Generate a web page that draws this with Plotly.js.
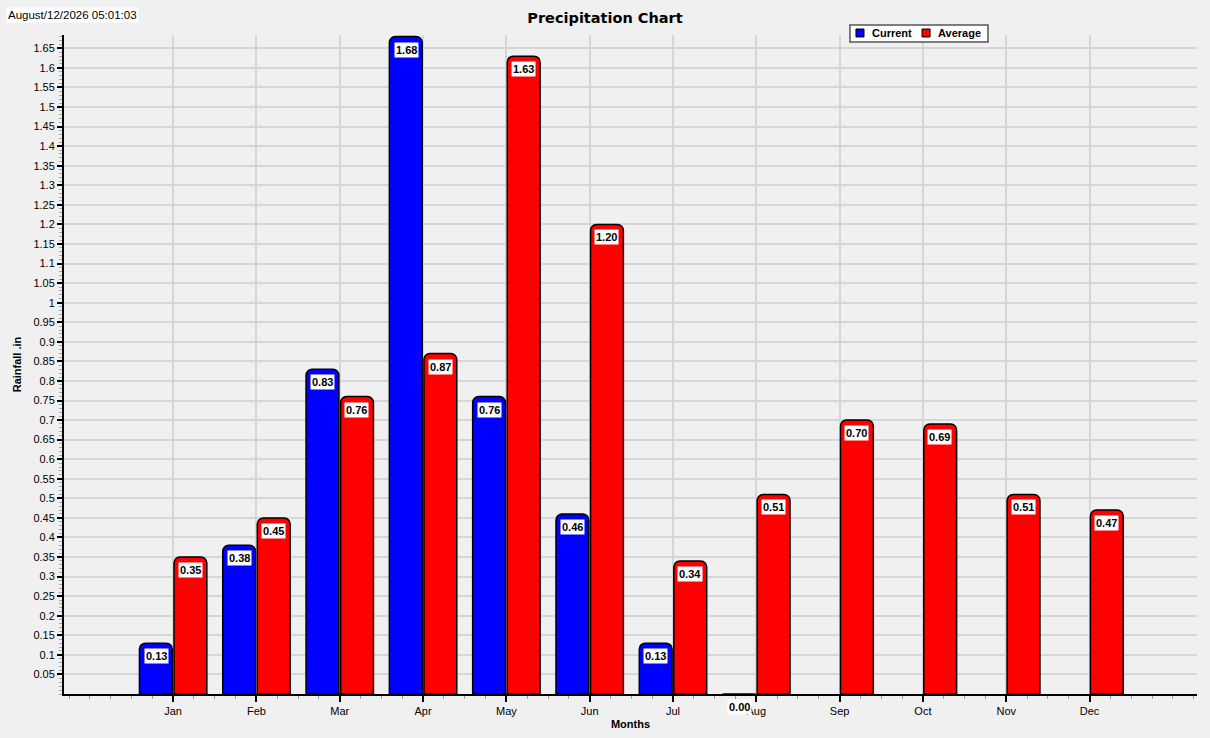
<!DOCTYPE html>
<html>
<head>
<meta charset="utf-8">
<script src="https://cdn.plot.ly/plotly-3.0.1.min.js"></script>
<style>
  body { margin: 0; background: #f0f0f0; }
  #graph { width: 1210px; height: 738px; }
</style>
</head>
<body>
<div id="graph"></div>
<script>
// chart data
const months = ['Jan', 'Feb', 'Mar', 'Apr', 'May', 'Jun', 'Jul', 'Aug', 'Sep', 'Oct', 'Nov', 'Dec'];
const current = [0.13, 0.38, 0.83, 1.68, 0.76, 0.46, 0.13, 0.00, null, null, null, null];
const average = [0.35, 0.45, 0.76, 0.87, 1.63, 1.20, 0.34, 0.51, 0.70, 0.69, 0.51, 0.47];
const yTicks = [0.05, 0.1, 0.15, 0.2, 0.25, 0.3, 0.35, 0.4, 0.45, 0.5, 0.55, 0.6, 0.65, 0.7, 0.75, 0.8,
                0.85, 0.9, 0.95, 1, 1.05, 1.1, 1.15, 1.2, 1.25, 1.3, 1.35, 1.4, 1.45, 1.5, 1.55, 1.6, 1.65];
const seriesNames = ['Current', 'Average'];
const seriesColors = ['#0000ff', '#ff0000'];
const stamp = 'August/12/2026 05:01:03';

const font = 'Liberation Sans, Arial, sans-serif';
const idx = months.map((m, i) => i);

function barTrace(name, values, color) {
    return {
        x: idx,
        y: values,
        name: name,
        type: 'bar',
        marker: { color: color, line: { color: '#000', width: 1.5 } },
        hoverinfo: 'skip'
    };
}

// white value boxes near the top of each bar
function labels(values, shift) {
    const out = [];
    values.forEach(function (v, i) {
        if (v === null) return;
        out.push({
            x: i, y: v, xref: 'x', yref: 'y',
            xshift: shift, yshift: -5,
            yanchor: 'top', xanchor: 'center',
            text: '<b>' + v.toFixed(2) + '</b>',
            showarrow: false,
            bgcolor: '#ffffff',
            borderpad: 1,
            font: { family: font, size: 11, color: '#000' }
        });
    });
    return out;
}

// small boxed legend at the top, like the original
function legendParts() {
    const shapes = [{
        type: 'rect', xref: 'paper', yref: 'paper',
        x0: 0.6937, x1: 0.8155, y0: 0.9894, y1: 1.0152,
        line: { color: '#555', width: 1.5 }, fillcolor: '#ffffff'
    }];
    const notes = [];
    const starts = [0.6990, 0.7573];
    seriesNames.forEach(function (n, k) {
        shapes.push({
            type: 'rect', xref: 'paper', yref: 'paper',
            x0: starts[k], x1: starts[k] + 0.0071, y0: 0.9970, y1: 1.0091,
            line: { color: '#000', width: 1 }, fillcolor: seriesColors[k]
        });
        notes.push({
            x: starts[k] + 0.0125, y: 1.0030, xref: 'paper', yref: 'paper',
            xanchor: 'left', yanchor: 'middle', showarrow: false,
            text: '<b>' + n + '</b>',
            font: { family: font, size: 11, color: '#000' }
        });
    });
    return { shapes: shapes, notes: notes };
}

function init_plot() {
    const data = [
        barTrace(seriesNames[0], current, seriesColors[0]),
        barTrace(seriesNames[1], average, seriesColors[1])
    ];

    const leg = legendParts();
    const annotations = labels(current, -17).concat(labels(average, 17), leg.notes);
    annotations.push({
        x: -0.051, y: 1.031, xref: 'paper', yref: 'paper',
        xanchor: 'left', yanchor: 'middle',
        text: stamp, showarrow: false,
        bgcolor: '#ffffff', borderpad: 1,
        font: { family: font, size: 11.5, color: '#000' }
    });

    const layout = {
        width: 1210,
        height: 738,
        paper_bgcolor: '#f0f0f0',
        plot_bgcolor: '#f0f0f0',
        margin: { l: 64, r: 13, t: 35, b: 44 },
        font: { family: font, size: 11, color: '#000' },
        title: {
            text: '<b>Precipitation Chart</b>',
            font: { family: 'DejaVu Sans, sans-serif', size: 14.5, color: '#000' },
            x: 0.5, xanchor: 'center',
            y: 0.976, yanchor: 'middle'
        },
        barmode: 'group',
        bargap: 0.17,
        bargroupgap: 0.05,
        barcornerradius: 6,
        showlegend: false,
        xaxis: {
            range: [-1.31, 12.29],
            tickmode: 'array',
            tickvals: idx,
            ticktext: months,
            ticks: 'outside',
            ticklen: 6,
            tickwidth: 2,
            tickcolor: '#000',
            showline: true,
            linecolor: '#000',
            linewidth: 2,
            showgrid: true,
            gridcolor: '#d6d6d6',
            gridwidth: 2,
            zeroline: false,
            minor: { dtick: 0.25, tick0: 0, ticks: 'outside', ticklen: 3, tickcolor: '#999', tickwidth: 1, showgrid: false },
            title: { text: '<b>Months</b>', font: { family: font, size: 11 }, standoff: 4 }
        },
        yaxis: {
            range: [0, 1.684],
            tickmode: 'array',
            tickvals: yTicks,
            ticktext: yTicks.map(String),
            ticks: 'outside',
            ticklen: 5,
            tickwidth: 2,
            tickcolor: '#000',
            showline: true,
            linecolor: '#000',
            linewidth: 2,
            showgrid: true,
            gridcolor: '#d6d6d6',
            gridwidth: 2,
            zeroline: false,
            minor: { tickmode: 'linear', tick0: 0, dtick: 0.01, ticks: 'outside', ticklen: 3, tickcolor: '#aaa', tickwidth: 1, showgrid: false },
            title: { text: '<b>Rainfall .in</b>', font: { family: font, size: 11 }, standoff: 10 }
        },
        shapes: leg.shapes,
        annotations: annotations
    };

    Plotly.newPlot('graph', data, layout, { displayModeBar: false, staticPlot: true });
}

window.addEventListener("load", init_plot, false);
</script>
</body>
</html>
